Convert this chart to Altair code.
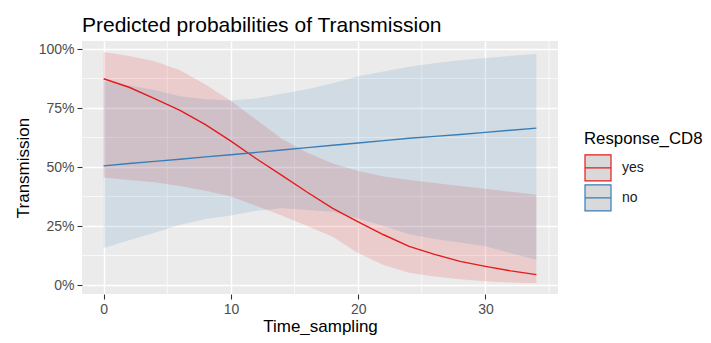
import altair as alt
import pandas as pd

# ---- data ----
time_sampling = [0, 2, 4, 6, 8, 10, 12, 14, 16, 18, 20, 22, 24, 26, 28, 30, 32, 34]

yes_fit   = [0.874, 0.838, 0.79, 0.74, 0.68, 0.61, 0.535, 0.465, 0.393, 0.325, 0.268, 0.213, 0.164, 0.13, 0.10, 0.079, 0.06, 0.044]
yes_low   = [0.456, 0.445, 0.435, 0.42, 0.40, 0.375, 0.335, 0.295, 0.25, 0.205, 0.135, 0.085, 0.052, 0.036, 0.024, 0.016, 0.011, 0.008]
yes_high  = [0.987, 0.97, 0.948, 0.91, 0.85, 0.78, 0.70, 0.62, 0.56, 0.515, 0.483, 0.46, 0.445, 0.432, 0.42, 0.408, 0.395, 0.383]

no_fit    = [0.505, 0.515, 0.524, 0.533, 0.543, 0.552, 0.562, 0.572, 0.582, 0.592, 0.602, 0.612, 0.622, 0.63, 0.638, 0.647, 0.656, 0.665]
no_low    = [0.157, 0.19, 0.222, 0.255, 0.28, 0.295, 0.315, 0.325, 0.318, 0.31, 0.282, 0.25, 0.215, 0.195, 0.18, 0.164, 0.135, 0.107]
no_high   = [0.863, 0.845, 0.826, 0.80, 0.787, 0.782, 0.79, 0.81, 0.83, 0.855, 0.885, 0.905, 0.925, 0.94, 0.952, 0.962, 0.971, 0.979]

groups = ["yes", "no"]
group_colors = ["#E41A1C", "#377EB8"]

minor_x = [5, 15, 25, 35]
minor_y = [0.125, 0.375, 0.625, 0.875]

x_ticks = [0, 10, 20, 30]
y_ticks = [0, 0.25, 0.5, 0.75, 1.0]

rows = []
for g, fit, lo, hi in [("yes", yes_fit, yes_low, yes_high), ("no", no_fit, no_low, no_high)]:
    for t, f, l, h in zip(time_sampling, fit, lo, hi):
        rows.append({"Time_sampling": t, "Response_CD8": g, "band_group": g,
                     "fit": f, "low": l, "high": h})
df = pd.DataFrame(rows)

xscale = alt.Scale(domain=[-1.7, 35.7], nice=False, zero=False)
yscale = alt.Scale(domain=[-0.038, 1.034], nice=False, zero=False)

xaxis = alt.Axis(values=x_ticks, title="Time_sampling", format="d")
yaxis = alt.Axis(values=y_ticks, title="Transmission", format=".0%")

minor_v = alt.Chart(pd.DataFrame({"v": minor_x})).mark_rule(color="white", strokeWidth=0.7).encode(
    x=alt.X("v:Q", scale=xscale, axis=xaxis)
)
minor_h = alt.Chart(pd.DataFrame({"h": minor_y})).mark_rule(color="white", strokeWidth=0.7).encode(
    y=alt.Y("h:Q", scale=yscale, axis=yaxis)
)

# band fill scale: domain taken from the data (sorted), so it is not merged with the line legend
band = alt.Chart(df).mark_area(fillOpacity=0.15).encode(
    x=alt.X("Time_sampling:Q", scale=xscale, axis=xaxis),
    y=alt.Y("low:Q", scale=yscale, axis=yaxis),
    y2="high:Q",
    fill=alt.Fill("band_group:N", scale=alt.Scale(range=group_colors),
                  legend=None, sort=groups),
)

line = alt.Chart(df).mark_line(strokeWidth=1.4).encode(
    x=alt.X("Time_sampling:Q", scale=xscale, axis=xaxis),
    y=alt.Y("fit:Q", scale=yscale, axis=yaxis),
    color=alt.Color(
        "Response_CD8:N",
        scale=alt.Scale(domain=groups, range=group_colors),
        sort=groups,
        legend=alt.Legend(
            title="Response_CD8",
            orient="none",
            legendX=502,
            legendY=90,
            symbolType="M-1,-1L1,-1L1,1L-1,1Z M-1,0L1,0",
            symbolSize=676,
            symbolFillColor="#D9D9D9",
            symbolStrokeWidth=1.2,
            labelFontSize=14,
            labelColor="#1A1A1A",
            labelFont="Liberation Sans",
            labelOffset=10,
            titleFontSize=16.8,
            titleFont="Liberation Sans",
            titleFontWeight="normal",
            titleColor="black",
            titlePadding=6,
            rowPadding=-3,
        ),
    ),
)

chart = alt.layer(minor_v, minor_h, band, line).properties(
    width=476,
    height=253,
    autosize=alt.AutoSizeParams(type="none"),
    padding={"left": 74, "top": 33, "right": 145, "bottom": 41},
    title=alt.TitleParams(
        "Predicted probabilities of Transmission",
        anchor="start",
        frame="group",
        font="Liberation Sans",
        fontSize=21,
        fontWeight="normal",
        color="black",
        baseline="alphabetic",
        offset=13,
        dy=25,
    ),
).configure_view(
    fill="#EBEBEB", stroke=None
).configure_axis(
    domain=False,
    grid=True,
    gridColor="white",
    gridWidth=1.4,
    tickColor="#333333",
    tickSize=5,
    tickWidth=1.1,
    labelFont="Liberation Sans",
    labelFontSize=14,
    labelColor="#4D4D4D",
    labelPadding=3,
    titleFont="Liberation Sans",
    titleFontSize=17,
    titleFontWeight="normal",
    titleColor="black",
).configure_axisX(
    titlePadding=2
).configure_axisY(
    titlePadding=6
)

chart.save("out.html", embed_options={"renderer": "svg", "actions": False})
